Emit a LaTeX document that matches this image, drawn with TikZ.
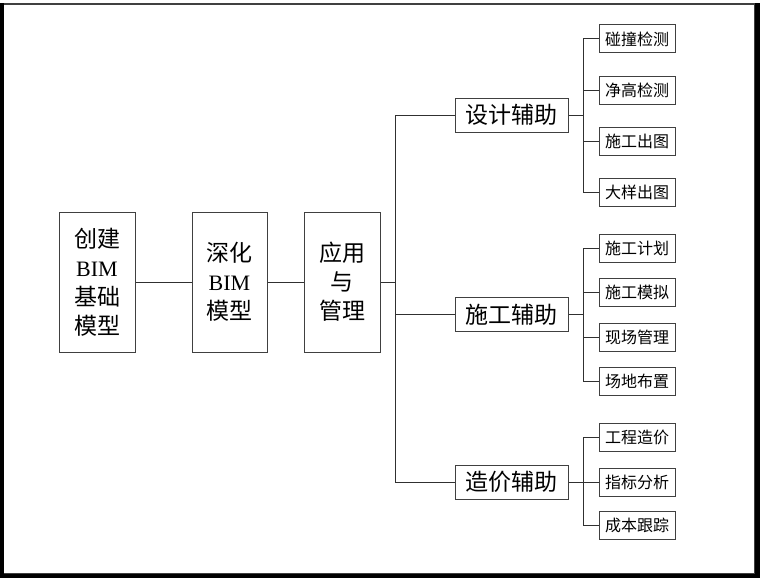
\documentclass[tikz,border=0pt]{standalone}
\usepackage{fontspec}
\newfontfamily\cjk{Noto Sans CJK SC}
\newfontfamily\lat{Liberation Serif}
\definecolor{boxc}{HTML}{404040}
\definecolor{linec}{HTML}{303030}
\tikzset{
  box/.style={draw=boxc, line width=1pt, inner sep=0pt, align=center, fill=white},
  tallbox/.style={box, minimum width=76pt, minimum height=140pt, font=\cjk\fontsize{23}{29}\selectfont},
  midbox/.style={box, minimum width=113pt, minimum height=34pt, font=\cjk\fontsize{23}{28}\selectfont},
  subbox/.style={box, minimum width=76pt, minimum height=28pt, font=\cjk\fontsize{16}{20}\selectfont},
  conn/.style={draw=linec, line width=1pt},
}
\newcommand{\bimtxt}{{\lat\fontsize{22}{29}\selectfont BIM}}
\begin{document}
\begin{tikzpicture}[x=1pt,y=-1pt]
\useasboundingbox (0,0) rectangle (760,578);
\fill[white] (0,0) rectangle (760,578);
% frame
\draw[boxc, line width=2pt] (2,4) -- (757,4);
\draw[boxc, line width=1pt] (754,4) -- (754,573) -- (2,573);
\fill[black] (0,3) rectangle (4,578);
\fill[black] (755,3) rectangle (760,578);
\fill[black] (0,574) rectangle (760,578);
% main chain
\node[tallbox] (b1) at (97,282) {创建\\\bimtxt\\基础\\模型};
\node[tallbox, minimum width=75pt] (b2) at (229.5,282) {深化\\\bimtxt\\模型};
\node[tallbox] (b3) at (342,282) {应用\\与\\管理};
\node[midbox] (m1) at (511.5,115) {设计辅助};
\node[midbox] (m2) at (511.5,314.5) {施工辅助};
\node[midbox] (m3) at (511.5,482) {造价辅助};
% sub boxes
\node[subbox] (a1) at (637,39) {碰撞检测};
\node[subbox] (a2) at (637,90) {净高检测};
\node[subbox] (a3) at (637,141) {施工出图};
\node[subbox] (a4) at (637,192) {大样出图};
\node[subbox] (c1) at (637,248) {施工计划};
\node[subbox] (c2) at (637,292) {施工模拟};
\node[subbox] (c3) at (637,337) {现场管理};
\node[subbox] (c4) at (637,381) {场地布置};
\node[subbox] (d1) at (637,437) {工程造价};
\node[subbox] (d2) at (637,482) {指标分析};
\node[subbox] (d3) at (637,525) {成本跟踪};
% connectors
\draw[conn] (b1.east) -- (b1.east -| b2.west);
\draw[conn] (b2.east) -- (b2.east -| b3.west);
\draw[conn] (b3.east) -- ++(15,0) coordinate (tr);
\draw[conn] (m1.west) -| (tr) |- (m3.west);
\draw[conn] (tr) |- (m2.west);
\draw[conn] (m1.east) -- ++(15,0) coordinate (s1);
\draw[conn] (a1.west) -| (s1) |- (a4.west);
\draw[conn] (s1 |- a2.west) -- (a2.west);
\draw[conn] (s1 |- a3.west) -- (a3.west);
\draw[conn] (m2.east) -- ++(15,0) coordinate (s2);
\draw[conn] (c1.west) -| (s2) |- (c4.west);
\draw[conn] (s2 |- c2.west) -- (c2.west);
\draw[conn] (s2 |- c3.west) -- (c3.west);
\draw[conn] (m3.east) -- ++(15,0) coordinate (s3);
\draw[conn] (d1.west) -| (s3) |- (d3.west);
\draw[conn] (s3 |- d2.west) -- (d2.west);
\end{tikzpicture}
\end{document}
